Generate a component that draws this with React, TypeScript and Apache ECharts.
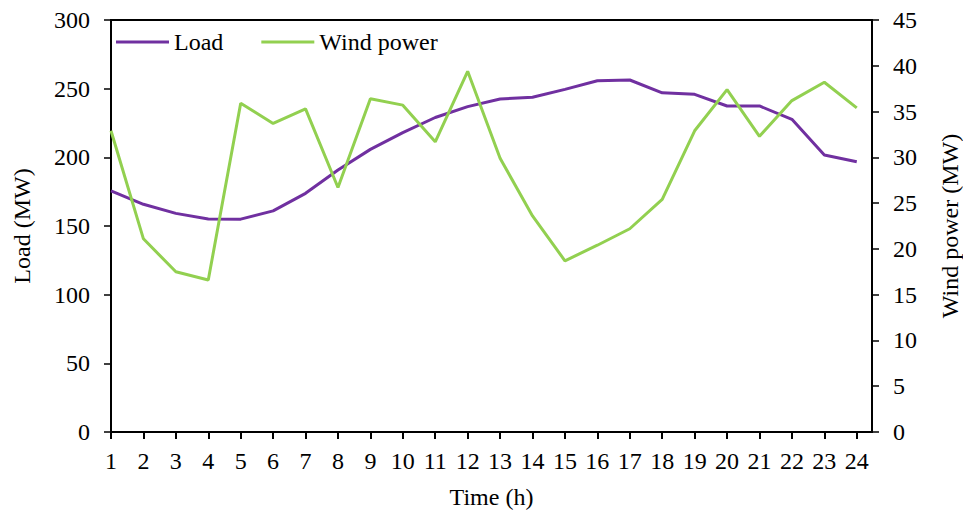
import React, { useEffect, useRef } from "react";
import * as echarts from "echarts";

const hours = [1, 2, 3, 4, 5, 6, 7, 8, 9, 10, 11, 12, 13, 14, 15, 16, 17, 18, 19, 20, 21, 22, 23, 24];
const loadMW = [175.5, 165.8, 159.2, 155.1, 155, 161, 173.8, 190.8, 205.8, 218, 229, 236.9, 242.5, 243.7, 249.5, 255.8, 256.3, 247, 245.9, 237.4, 237.4, 227.7, 201.7, 196.8];
const windMW = [32.9, 21.1, 17.5, 16.6, 35.9, 33.7, 35.3, 26.7, 36.4, 35.7, 31.7, 39.4, 29.9, 23.6, 18.7, 20.4, 22.2, 25.4, 32.9, 37.4, 32.3, 36.2, 38.2, 35.4];

const FONT = "Liberation Serif";

export default function App() {
  const ref = useRef<HTMLDivElement>(null);
  useEffect(() => {
    if (!ref.current) return;
    const chart = echarts.init(ref.current, undefined, { renderer: "svg", width: 963, height: 516 });
    const txt = { fontFamily: FONT, fontSize: 24, color: "#000" };
    chart.setOption({
      animation: false,
      backgroundColor: "#fff",
      textStyle: { fontFamily: FONT },
      grid: {
        left: 111,
        right: 91,
        top: 20,
        bottom: 84,
        outerBoundsMode: "none",
        containLabel: false,
        show: true,
        borderColor: "#000",
        borderWidth: 2,
        backgroundColor: "transparent",
      },
      legend: {
        left: 111,
        top: 25,
        icon: "rect",
        itemWidth: 53,
        itemHeight: 3,
        itemGap: 38,
        textStyle: { ...txt },
        data: ["Load", "Wind power"],
      },
      xAxis: {
        type: "value",
        min: 1,
        max: 24.47,
        interval: 1,
        name: "Time (h)",
        nameLocation: "middle",
        nameGap: 53,
        nameTextStyle: { ...txt },
        axisLine: { lineStyle: { color: "#000", width: 2 } },
        axisTick: { show: true, inside: false, length: 7, lineStyle: { color: "#000", width: 2 }, customValues: hours },
        axisLabel: { ...txt, margin: 17, customValues: hours, formatter: (v: number) => String(v) },
        splitLine: { show: false },
      },
      yAxis: [
        {
          type: "value",
          min: 0,
          max: 300,
          interval: 50,
          name: "Load (MW)",
          nameLocation: "middle",
          nameGap: 77,
          nameRotate: 90,
          nameTextStyle: { ...txt },
          axisLine: { show: true, lineStyle: { color: "#000", width: 2 } },
          axisTick: { show: true, length: 7, lineStyle: { color: "#000", width: 1.5 } },
          axisLabel: { ...txt, margin: 21 },
          splitLine: { show: false },
        },
        {
          type: "value",
          min: 0,
          max: 45,
          interval: 5,
          position: "right",
          name: "Wind power (MW)",
          nameLocation: "middle",
          nameGap: 66,
          nameRotate: 90,
          nameTextStyle: { ...txt },
          axisLine: { show: true, lineStyle: { color: "#000", width: 2 } },
          axisTick: { show: true, length: 7, lineStyle: { color: "#000", width: 1.5 } },
          axisLabel: { ...txt, margin: 21 },
          splitLine: { show: false },
        },
      ],
      series: [
        {
          name: "Load",
          type: "line",
          yAxisIndex: 0,
          symbol: "none",
          data: hours.map((h, i) => [h, loadMW[i]]),
          lineStyle: { color: "#7030A0", width: 3 },
          itemStyle: { color: "#7030A0" },
        },
        {
          name: "Wind power",
          type: "line",
          yAxisIndex: 1,
          symbol: "none",
          data: hours.map((h, i) => [h, windMW[i]]),
          lineStyle: { color: "#92D050", width: 3 },
          itemStyle: { color: "#92D050" },
        },
      ],
    });
    return () => chart.dispose();
  }, []);
  return <div ref={ref} style={{ width: 963, height: 516, position: "absolute", left: 0, top: 0 }} />;
}
